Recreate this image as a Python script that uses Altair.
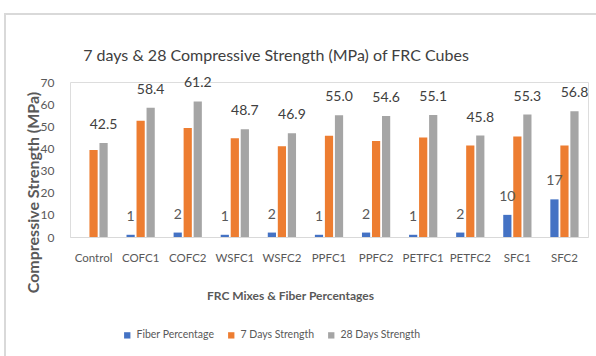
import altair as alt
import pandas as pd

# FRC mixes and their measured values
mixes = ["Control", "COFC1", "COFC2", "WSFC1", "WSFC2", "PPFC1",
         "PPFC2", "PETFC1", "PETFC2", "SFC1", "SFC2"]
fiber_pct = [None, 1, 2, 1, 2, 1, 2, 1, 2, 10, 17]
strength_7d = [39.3, 52.5, 49.2, 44.6, 41.0, 45.7, 43.4, 44.9, 41.3, 45.4, 41.3]
strength_28d = [42.5, 58.4, 61.2, 48.7, 46.9, 55.0, 54.6, 55.1, 45.8, 55.3, 56.8]

series = ["Fiber Percentage", "7 Days Strength", "28 Days Strength"]
colors = ["#4472C4", "#ED7D31", "#A5A5A5"]
y_ticks = [0, 10, 20, 30, 40, 50, 60, 70]

rows = []
for i, m in enumerate(mixes):
    for s, vals in zip(series, [fiber_pct, strength_7d, strength_28d]):
        if vals[i] is not None:
            rows.append({"mix": m, "series": s, "value": vals[i]})
df = pd.DataFrame(rows)

FONT = "Lato"
GREY = "#595959"

x_enc = alt.X("mix:N", sort=mixes, title="FRC Mixes & Fiber Percentages",
              scale=alt.Scale(paddingInner=0.4, paddingOuter=0.2),
              axis=alt.Axis(labelAngle=0, ticks=False, labelPadding=15,
                            labelFontSize=11.5, labelColor=GREY, labelFont=FONT,
                            labelOverlap=False,
                            domainColor="#d9d9d9", domainWidth=1,
                            titleFont=FONT, titleFontSize=12, titleFontWeight="bold",
                            titleColor=GREY, titleX=220, titleY=53,
                            titleBaseline="top"))
xo_enc = alt.XOffset("series:N", sort=series,
                     scale=alt.Scale(domain=series, paddingInner=0.18))
y_enc = alt.Y("value:Q", title="Compressive Strength (MPa)",
              scale=alt.Scale(domain=[0, 70], nice=False),
              axis=alt.Axis(values=y_ticks, grid=False, domain=False, ticks=False,
                            labelOverlap=False,
                            labelPadding=16, labelFontSize=12, labelColor=GREY,
                            labelFont=FONT, titleFont=FONT, titleFontSize=16,
                            titleFontWeight="bold", titleColor=GREY,
                            titleX=-37, titleY=110, titleAngle=-90,
                            titleBaseline="middle"))

base = alt.Chart(df)

bars = base.mark_bar().encode(
    x=x_enc,
    xOffset=xo_enc,
    y=y_enc,
    color=alt.Color("series:N", sort=series,
                    scale=alt.Scale(domain=series, range=colors),
                    legend=alt.Legend(title=None, orient="none", direction="horizontal",
                                      legendX=52, legendY=248, symbolType="square",
                                      symbolSize=40, symbolStrokeWidth=0,
                                      labelFontSize=10.5, labelColor=GREY,
                                      labelFont=FONT, columnPadding=11)),
)

label_28 = base.transform_filter(
    alt.datum.series == "28 Days Strength"
).mark_text(baseline="bottom", dy=-11, fontSize=14, color="#404040", font=FONT).encode(
    x=x_enc,
    xOffset=xo_enc,
    y=y_enc,
    text=alt.Text("value:Q", format=".1f"),
)

label_fiber = base.transform_filter(
    alt.datum.series == "Fiber Percentage"
).mark_text(baseline="bottom", dy=-11, fontSize=14, color=GREY, font=FONT).encode(
    x=x_enc,
    xOffset=xo_enc,
    y=y_enc,
    text=alt.Text("value:Q", format="d"),
)

# light frame around the chart
frame_top = alt.Chart().mark_rule(color="#d9d9d9", strokeWidth=2).encode(
    x=alt.value(-65), x2=alt.value(530), y=alt.value(-68))
frame_left = alt.Chart().mark_rule(color="#d9d9d9", strokeWidth=2).encode(
    x=alt.value(-65), y=alt.value(-69), y2=alt.value(280))

chart = alt.layer(frame_top, frame_left, bars, label_28, label_fiber).properties(
    width=518,
    height=155,
    title=alt.TitleParams("7 days & 28 Compressive Strength (MPa) of FRC Cubes",
                          font=FONT, fontSize=16, fontWeight="normal",
                          color="#404040", anchor="middle", frame="group",
                          offset=-52, dx=-53),
    autosize=alt.AutoSizeParams(type="none"),
    padding={"left": 70, "top": 82, "right": 8, "bottom": 119},
).configure_view(stroke=None).configure(background="white")

chart.save("out.html", embed_options={"renderer": "svg", "actions": False})
